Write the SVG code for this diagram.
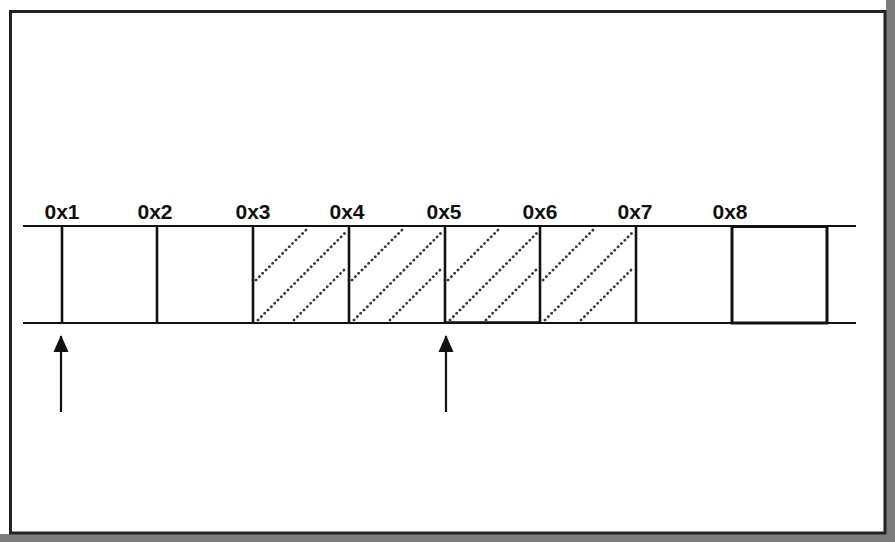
<svg xmlns="http://www.w3.org/2000/svg" width="895" height="542" viewBox="0 0 895 542">
<defs>
<style>
.lbl{font-family:"Liberation Sans",Arial,sans-serif;font-weight:bold;font-size:21px;fill:#111;text-anchor:middle}
.rail{stroke:#111;stroke-width:2.2;fill:none}
.cell{stroke:#111;stroke-width:2.6;fill:none}
.hatch{stroke:#3a3a3a;stroke-width:2.8;stroke-dasharray:0.1 4.6;stroke-linecap:round;fill:none}
.arrow{stroke:#111;stroke-width:2.2;fill:none}
</style>
<marker id="ah" markerWidth="18" markerHeight="16" refX="16" refY="8" orient="auto" markerUnits="userSpaceOnUse" viewBox="0 0 18 16">
<path d="M0,0.5 L17,8 L0,15.5 Z" fill="#111"/>
</marker>
<g id="hatchpat">
<line class="hatch" x1="3" y1="280" x2="53" y2="230"/>
<line class="hatch" x1="5" y1="320" x2="92" y2="233"/>
<line class="hatch" x1="41" y1="320" x2="92" y2="269"/>
</g>
</defs>
<rect x="0" y="0" width="895" height="542" fill="#ffffff"/>
<rect x="886" y="0" width="9" height="542" fill="#7d7d7d"/>
<rect x="0" y="534" width="895" height="8" fill="#7d7d7d"/>
<rect id="frame" x="10.5" y="11.5" width="874.5" height="521.5" fill="#fff" stroke="#222" stroke-width="3"/>
<g id="connectors">
<line class="rail" x1="23" y1="226" x2="856" y2="226"/>
<line class="rail" x1="23" y1="323" x2="856" y2="323"/>
<line class="arrow" x1="61" y1="412" x2="61" y2="336" marker-end="url(#ah)"/>
<line class="arrow" x1="446" y1="412" x2="446" y2="336" marker-end="url(#ah)"/>
</g>
<g id="cell1"><line class="cell" x1="62" y1="226" x2="62" y2="323"/><text class="lbl" x="62" y="219">0x1</text></g>
<g id="cell2"><line class="cell" x1="157" y1="226" x2="157" y2="323"/><text class="lbl" x="155" y="219">0x2</text></g>
<g id="cell3"><line class="cell" x1="253" y1="226" x2="253" y2="323"/><use href="#hatchpat" x="253"/><text class="lbl" x="253" y="219">0x3</text></g>
<g id="cell4"><line class="cell" x1="349" y1="226" x2="349" y2="323"/><use href="#hatchpat" x="349"/><text class="lbl" x="347" y="219">0x4</text></g>
<g id="cell5"><line class="cell" x1="445" y1="226" x2="445" y2="323"/><line class="cell" x1="445" y1="322.5" x2="540" y2="322.5" stroke-width="3.2"/><use href="#hatchpat" x="445"/><text class="lbl" x="444" y="219">0x5</text></g>
<g id="cell6"><line class="cell" x1="540" y1="226" x2="540" y2="323"/><use href="#hatchpat" x="540"/><text class="lbl" x="540" y="219">0x6</text></g>
<g id="cell7"><line class="cell" x1="636" y1="226" x2="636" y2="323"/><text class="lbl" x="635" y="219">0x7</text></g>
<g id="cell8"><rect x="732" y="226.5" width="95" height="96.5" fill="none" stroke="#111" stroke-width="3"/><text class="lbl" x="730" y="219">0x8</text></g>
</svg>
